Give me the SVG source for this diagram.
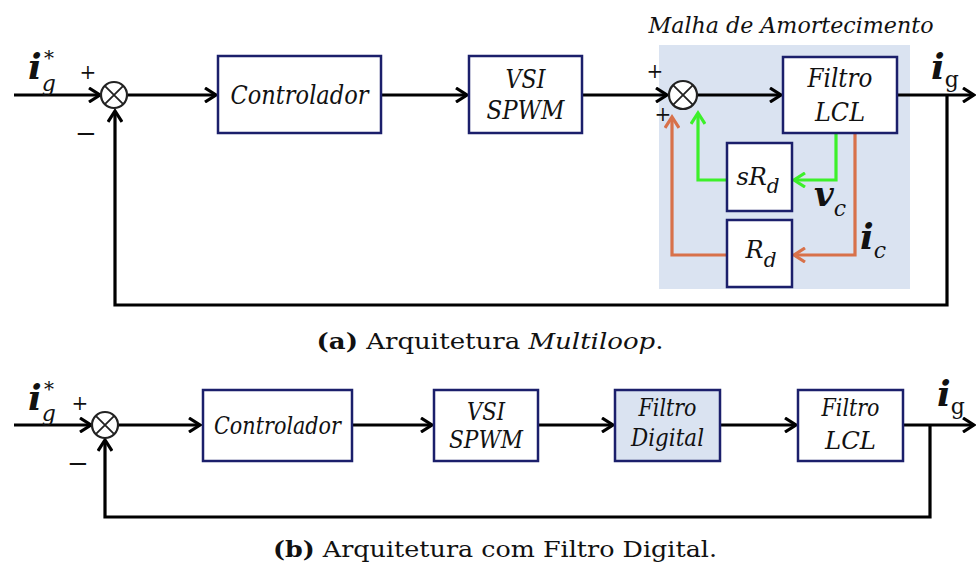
<svg xmlns="http://www.w3.org/2000/svg" width="976" height="568" viewBox="0 0 976 568">
<style>
.box{fill:#fff;stroke:#1b1f6b;stroke-width:2.5}
.shade{fill:#dae3f1}
.ln{fill:none;stroke:#000;stroke-width:3.2}
.gr{fill:none;stroke:#3cf02a;stroke-width:3.2}
.or{fill:none;stroke:#d8714a;stroke-width:3.2}
.sum{fill:#fff;stroke:#222;stroke-width:2.2}
.t{font-family:"DejaVu Serif",serif;font-style:italic;fill:#111;text-anchor:middle}
.v{font-family:"DejaVu Serif",serif;font-style:italic;font-weight:bold;fill:#111}
.s{font-family:"DejaVu Serif",serif;fill:#111}
.cap{font-family:"DejaVu Serif",serif;fill:#111;font-size:22px}
</style>
<defs>
<marker id="ak" markerWidth="16" markerHeight="16" refX="13" refY="8" orient="auto" markerUnits="userSpaceOnUse"><path d="M2,1 L13,8 L2,15" fill="none" stroke="#000" stroke-width="3.2"/></marker>
<marker id="ag" markerWidth="16" markerHeight="16" refX="13" refY="8" orient="auto" markerUnits="userSpaceOnUse"><path d="M2,1 L13,8 L2,15" fill="none" stroke="#3cf02a" stroke-width="3.2"/></marker>
<marker id="ao" markerWidth="16" markerHeight="16" refX="13" refY="8" orient="auto" markerUnits="userSpaceOnUse"><path d="M2,1 L13,8 L2,15" fill="none" stroke="#d8714a" stroke-width="3.2"/></marker>
</defs>

<rect class="shade" x="659" y="45" width="251" height="244"/>
<text class="t" x="791" y="33" font-size="23" textLength="285" lengthAdjust="spacingAndGlyphs">Malha de Amortecimento</text>

<g id="connectors">
<path class="ln" d="M14,95 H100" marker-end="url(#ak)"/>
<path class="ln" d="M128,95 H216" marker-end="url(#ak)"/>
<path class="ln" d="M381,95 H467" marker-end="url(#ak)"/>
<path class="ln" d="M582,95 H667" marker-end="url(#ak)"/>
<path class="ln" d="M697,95 H781" marker-end="url(#ak)"/>
<path class="ln" d="M897,95 H974" marker-end="url(#ak)"/>
<path class="ln" d="M947,95 V305 H115 V111" marker-end="url(#ak)"/>
<path class="gr" d="M836,133 V180 H794" marker-end="url(#ag)"/>
<path class="gr" d="M727,180 H698 V113" marker-end="url(#ag)"/>
<path class="or" d="M855,133 V255 H794" marker-end="url(#ao)"/>
<path class="or" d="M727,255 H672 V117" marker-end="url(#ao)"/>
<path class="ln" d="M14,425 H91" marker-end="url(#ak)"/>
<path class="ln" d="M118,425 H200" marker-end="url(#ak)"/>
<path class="ln" d="M352,425 H432" marker-end="url(#ak)"/>
<path class="ln" d="M538,425 H613" marker-end="url(#ak)"/>
<path class="ln" d="M720,425 H796" marker-end="url(#ak)"/>
<path class="ln" d="M903,425 H974" marker-end="url(#ak)"/>
<path class="ln" d="M930,425 V517 H105 V440" marker-end="url(#ak)"/>
</g>

<g id="sum1">
<circle class="sum" cx="114" cy="95" r="13"/>
<path d="M104.8,85.8 L123.2,104.2 M123.2,85.8 L104.8,104.2" stroke="#222" stroke-width="1.8"/>
<text class="s" x="88" y="79" font-size="20" text-anchor="middle">+</text>
<text class="s" x="86" y="142" font-size="26" text-anchor="middle">−</text>
</g>
<g id="ctrl1">
<rect class="box" x="218" y="56" width="163" height="77"/>
<text class="t" x="299.5" y="104" font-size="26" textLength="138" lengthAdjust="spacingAndGlyphs">Controlador</text>
</g>
<g id="vsi1">
<rect class="box" x="469" y="56" width="113" height="77"/>
<text class="t" x="525.5" y="88" font-size="26" textLength="40" lengthAdjust="spacingAndGlyphs">VSI</text>
<text class="t" x="525.5" y="119" font-size="26" textLength="78" lengthAdjust="spacingAndGlyphs">SPWM</text>
</g>
<g id="sum2">
<circle class="sum" cx="683" cy="95" r="14"/>
<path d="M673.1,85.1 L692.9,104.9 M692.9,85.1 L673.1,104.9" stroke="#222" stroke-width="1.8"/>
<text class="s" x="655" y="78" font-size="20" text-anchor="middle">+</text>
<text class="s" x="663" y="121" font-size="20" text-anchor="middle">+</text>
</g>
<g id="lcl1">
<rect class="box" x="783" y="57" width="114" height="76"/>
<text class="t" x="840" y="87" font-size="26" textLength="65" lengthAdjust="spacingAndGlyphs">Filtro</text>
<text class="t" x="840" y="121" font-size="26" textLength="50" lengthAdjust="spacingAndGlyphs">LCL</text>
</g>
<g id="srd">
<rect class="box" x="727" y="143" width="65" height="68"/>
<text class="t" x="758" y="185" font-size="24">sR<tspan font-size="20" dy="8">d</tspan></text>
</g>
<g id="rd">
<rect class="box" x="727" y="220" width="65" height="67"/>
<text class="t" x="761" y="258" font-size="24">R<tspan font-size="20" dy="9">d</tspan></text>
</g>
<g id="labels-a">
<text class="v" x="28" y="79" font-size="36">i<tspan class="s" font-weight="normal" font-size="22" dy="12">g</tspan></text>
<text class="s" x="44" y="65" font-size="20">*</text>
<text class="v" x="931" y="79" font-size="36">i<tspan class="s" font-weight="normal" font-style="normal" font-size="22" dy="8">g</tspan></text>
<text class="v" x="814" y="206" font-size="34">v<tspan font-weight="normal" font-size="22" dy="10">c</tspan></text>
<text class="v" x="860" y="249" font-size="36">i<tspan font-weight="normal" font-size="22" dy="9">c</tspan></text>
</g>
<text class="cap" x="490" y="349" text-anchor="middle" textLength="347" lengthAdjust="spacingAndGlyphs"><tspan font-weight="bold">(a)</tspan> Arquitetura <tspan font-style="italic">Multiloop</tspan>.</text>

<g id="sum3">
<circle class="sum" cx="105" cy="425" r="13"/>
<path d="M95.8,415.8 L114.2,434.2 M114.2,415.8 L95.8,434.2" stroke="#222" stroke-width="1.8"/>
<text class="s" x="80" y="410" font-size="20" text-anchor="middle">+</text>
<text class="s" x="78" y="472" font-size="26" text-anchor="middle">−</text>
</g>
<g id="ctrl2">
<rect class="box" x="203" y="390" width="149" height="71"/>
<text class="t" x="277.5" y="434" font-size="24" textLength="127" lengthAdjust="spacingAndGlyphs">Controlador</text>
</g>
<g id="vsi2">
<rect class="box" x="434" y="390" width="104" height="71"/>
<text class="t" x="486" y="420" font-size="24" textLength="38" lengthAdjust="spacingAndGlyphs">VSI</text>
<text class="t" x="486" y="448" font-size="24" textLength="74" lengthAdjust="spacingAndGlyphs">SPWM</text>
</g>
<g id="fdig">
<rect class="box" x="615" y="390" width="105" height="71" style="fill:#dae3f1"/>
<text class="t" x="667.5" y="416" font-size="24" textLength="58" lengthAdjust="spacingAndGlyphs">Filtro</text>
<text class="t" x="667.5" y="446" font-size="24" textLength="73" lengthAdjust="spacingAndGlyphs">Digital</text>
</g>
<g id="lcl2">
<rect class="box" x="798" y="390" width="105" height="71"/>
<text class="t" x="850.5" y="416" font-size="24" textLength="58" lengthAdjust="spacingAndGlyphs">Filtro</text>
<text class="t" x="850.5" y="449" font-size="24" textLength="51" lengthAdjust="spacingAndGlyphs">LCL</text>
</g>
<g id="labels-b">
<text class="v" x="28" y="410" font-size="36">i<tspan font-weight="normal" font-size="22" dy="11">g</tspan></text>
<text class="s" x="44" y="396" font-size="20">*</text>
<text class="v" x="937" y="406" font-size="36">i<tspan font-weight="normal" font-style="normal" font-size="22" dy="8">g</tspan></text>
</g>
<text class="cap" x="495" y="557" text-anchor="middle" textLength="444" lengthAdjust="spacingAndGlyphs"><tspan font-weight="bold">(b)</tspan> Arquitetura com Filtro Digital.</text>
</svg>
